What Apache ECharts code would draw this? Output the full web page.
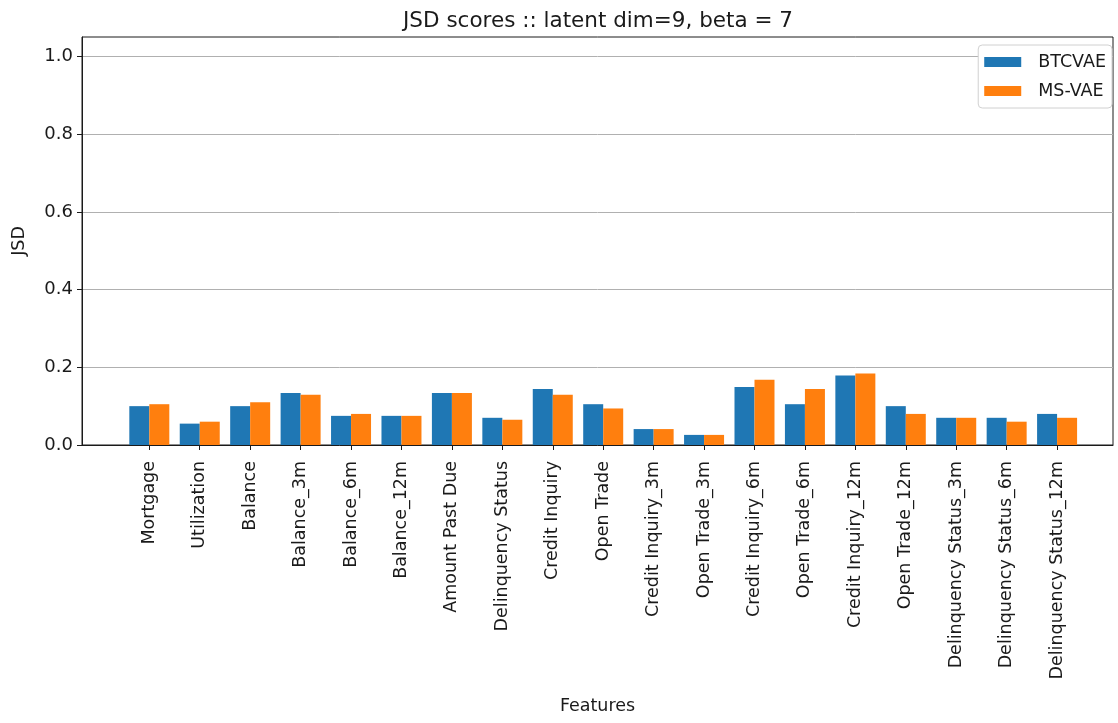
<!DOCTYPE html>
<html>
<head>
<meta charset="utf-8">
<script src="https://cdn.jsdelivr.net/npm/echarts@6/dist/echarts.min.js"></script>
<style>
    html, body { margin: 0; padding: 0; background: #fff; }
    #main { width: 1118px; height: 723px; }
</style>
</head>
<body>
<div id="main"></div>
<script>
// ---- data
var features = ['Mortgage', 'Utilization', 'Balance', 'Balance_3m', 'Balance_6m', 'Balance_12m',
    'Amount Past Due', 'Delinquency Status', 'Credit Inquiry', 'Open Trade', 'Credit Inquiry_3m',
    'Open Trade_3m', 'Credit Inquiry_6m', 'Open Trade_6m', 'Credit Inquiry_12m', 'Open Trade_12m',
    'Delinquency Status_3m', 'Delinquency Status_6m', 'Delinquency Status_12m'];
var btcvae = [0.100, 0.055, 0.100, 0.134, 0.075, 0.075, 0.134, 0.070, 0.144, 0.105,
    0.041, 0.026, 0.149, 0.105, 0.179, 0.100, 0.070, 0.070, 0.080];
var msvae = [0.105, 0.060, 0.110, 0.129, 0.080, 0.075, 0.134, 0.065, 0.129, 0.094,
    0.041, 0.026, 0.168, 0.144, 0.184, 0.080, 0.070, 0.060, 0.070];
var yTicks = [0, 0.2, 0.4, 0.6, 0.8, 1.0];

var font = 'DejaVu Sans';
var ink = '#1a1a1a';

var chart = echarts.init(document.getElementById('main'));
var option = {
    animation: false,
    textStyle: { fontFamily: font },
    title: {
        text: 'JSD scores :: latent dim=9, beta = 7',
        left: 398,
        top: 5,
        textStyle: { fontFamily: font, fontSize: 21.5, fontWeight: 'normal', color: ink }
    },
    legend: {
        orient: 'vertical',
        right: 6,
        top: 45,
        data: ['BTCVAE', 'MS-VAE'],
        icon: 'rect',
        itemWidth: 37,
        itemHeight: 10,
        itemGap: 11,
        padding: [8, 6, 8, 6],
        backgroundColor: '#fff',
        borderColor: '#d0d0d0',
        borderWidth: 1,
        borderRadius: 4,
        textStyle: { fontFamily: font, fontSize: 17.5, color: ink, padding: [0, 0, 0, 12] }
    },
    grid: [
        // frame + y axis
        { left: 82, right: 5, top: 37, bottom: 278, show: true, borderColor: ink, borderWidth: 1, containLabel: false },
        // bars, category bands 50.4px wide
        { left: 124.1, width: 958.2, top: 37, bottom: 278, containLabel: false }
    ],
    xAxis: [
        {
            gridIndex: 0, type: 'value', min: 0, max: 1,
            name: 'Features', nameLocation: 'middle', nameGap: 252,
            nameTextStyle: { fontFamily: font, fontSize: 17.5, color: ink },
            axisLine: { show: true, lineStyle: { color: ink, width: 1 } },
            axisTick: { show: false }, axisLabel: { show: false }, splitLine: { show: false }
        },
        {
            gridIndex: 1, type: 'category', data: features,
            axisLine: { show: false },
            axisTick: { show: true, alignWithLabel: true, length: 5, lineStyle: { color: ink } },
            axisLabel: { interval: 0, rotate: 90, margin: 16, fontFamily: font, fontSize: 17.5, color: ink },
            splitLine: { show: false }
        }
    ],
    yAxis: [
        {
            gridIndex: 0, type: 'value', min: 0, max: 1.05, interval: 0.2,
            name: 'JSD', nameLocation: 'middle', nameGap: 54, nameRotate: 90,
            nameTextStyle: { fontFamily: font, fontSize: 17.5, color: ink },
            axisLine: { show: true, lineStyle: { color: ink, width: 1 } },
            axisTick: { show: true, length: 5, lineStyle: { color: ink }, customValues: yTicks },
            axisLabel: {
                margin: 9, fontFamily: font, fontSize: 18, color: ink, customValues: yTicks,
                formatter: function (val) { return val.toFixed(1); }
            },
            splitLine: { show: true, lineStyle: { color: '#b0b0b0', width: 1 } }
        },
        {
            gridIndex: 1, type: 'value', min: 0, max: 1.05,
            show: false, splitLine: { show: false }
        }
    ],
    series: [
        {
            name: 'BTCVAE', type: 'bar', xAxisIndex: 1, yAxisIndex: 1,
            data: btcvae, barWidth: 20, barGap: '0%',
            itemStyle: { color: '#1f77b4' }
        },
        {
            name: 'MS-VAE', type: 'bar', xAxisIndex: 1, yAxisIndex: 1,
            data: msvae, barWidth: 20, barGap: '0%',
            itemStyle: { color: '#ff7f0e' }
        }
    ]
};
chart.setOption(option);
</script>
</body>
</html>
